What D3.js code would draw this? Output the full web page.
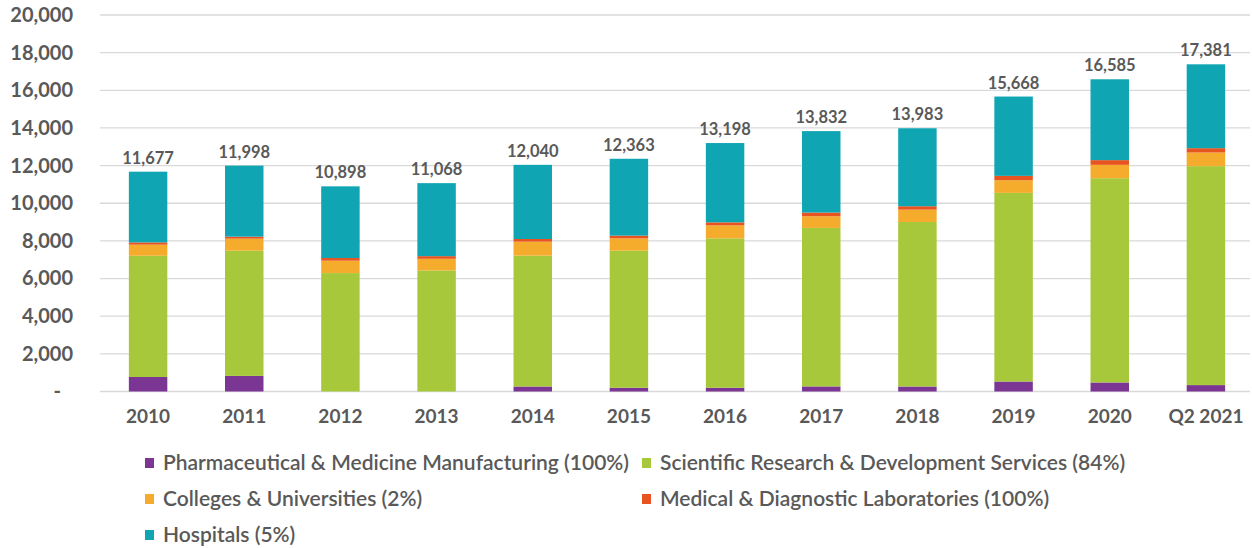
<!DOCTYPE html>
<html>
<head>
<meta charset="utf-8">
<script src="https://cdn.jsdelivr.net/npm/d3@7"></script>
<style>
  body { margin: 0; background: #fff; }
  svg text { font-family: Lato, "Open Sans", sans-serif; fill: #595959; }
  .axis path, .axis line { display: none; }
  .grid line { stroke: #d9d9d9; stroke-width: 1.3; }
</style>
</head>
<body>
<svg id="chart"></svg>
<script>
// categories and series
const years = ["2010", "2011", "2012", "2013", "2014", "2015", "2016", "2017", "2018", "2019", "2020", "Q2 2021"];
const pharma = [770, 830, 0, 0, 266, 200, 200, 270, 266, 530, 480, 340];
const scientific = [6440, 6650, 6290, 6430, 6950, 7280, 7935, 8420, 8740, 10020, 10850, 11630];
const colleges = [590, 640, 660, 620, 745, 655, 690, 620, 655, 675, 710, 725];
const labs = [120, 105, 140, 140, 140, 145, 160, 195, 180, 230, 250, 230];
const hospitals = [3757, 3773, 3808, 3878, 3939, 4083, 4213, 4327, 4142, 4213, 4295, 4456];
const totals = [11677, 11998, 10898, 11068, 12040, 12363, 13198, 13832, 13983, 15668, 16585, 17381];
const yTicks = [0, 2000, 4000, 6000, 8000, 10000, 12000, 14000, 16000, 18000, 20000];

const seriesNames = [
  "Pharmaceutical & Medicine Manufacturing (100%)",
  "Scientific Research & Development Services (84%)",
  "Colleges & Universities (2%)",
  "Medical & Diagnostic Laboratories (100%)",
  "Hospitals (5%)",
];
const seriesColors = ["#7b3593", "#a6c83a", "#f5ac2c", "#e8541f", "#10a5b3"];

const width = 1252;
const height = 548;

const svg = d3.select("#chart").attr("width", width).attr("height", height);

const keys = ["pharma", "scientific", "colleges", "labs", "hospitals"];
const table = years.map((y, i) => ({
  year: y,
  pharma: pharma[i],
  scientific: scientific[i],
  colleges: colleges[i],
  labs: labs[i],
  hospitals: hospitals[i],
  total: totals[i],
}));

const x = d3.scaleBand()
  .domain(years)
  .range([100, 1254])
  .paddingInner(0.6)
  .paddingOuter(0.3);

const y = d3.scaleLinear().domain([0, 20000]).range([391.5, 15]);

// gridlines
svg.append("g")
  .attr("class", "grid")
  .selectAll("line")
  .data(yTicks)
  .join("line")
  .attr("x1", 100)
  .attr("x2", 1250)
  .attr("y1", (d) => y(d))
  .attr("y2", (d) => y(d));

// y axis
const yAxis = svg.append("g")
  .attr("class", "axis")
  .attr("transform", "translate(100,0)")
  .call(d3.axisLeft(y).tickValues(yTicks).tickSize(0).tickPadding(27)
    .tickFormat((d) => (d === 0 ? "-" : d3.format(",")(d))));
yAxis.selectAll("text")
  .style("font-size", "20px")
  .style("font-weight", "bold");
yAxis.selectAll(".tick text").filter((d) => d === 0).attr("dx", -12);

// x axis
const xAxis = svg.append("g")
  .attr("class", "axis")
  .attr("transform", "translate(0,391.5)")
  .call(d3.axisBottom(x).tickSize(0).tickPadding(18));
xAxis.selectAll("text")
  .style("font-size", "19px")
  .style("font-weight", "bold");

// stacked bars
const stacked = d3.stack().keys(keys)(table);

svg.append("g")
  .selectAll("g")
  .data(stacked)
  .join("g")
  .attr("fill", (d, i) => seriesColors[i])
  .selectAll("rect")
  .data((d) => d)
  .join("rect")
  .attr("x", (d) => x(d.data.year))
  .attr("width", x.bandwidth())
  .attr("y", (d) => y(d[1]))
  .attr("height", (d) => y(d[0]) - y(d[1]));

// total labels
svg.append("g")
  .selectAll("text")
  .data(table)
  .join("text")
  .attr("x", (d) => x(d.year) + x.bandwidth() / 2)
  .attr("y", (d) => y(d.total) - 8)
  .attr("text-anchor", "middle")
  .style("font-size", "16.5px")
  .style("font-weight", "bold")
  .text((d) => d3.format(",")(d.total));

// legend
const legendPos = [
  [145, 463], [642, 463],
  [145, 499], [642, 499],
  [145, 535],
];
const legend = svg.append("g")
  .selectAll("g")
  .data(seriesNames)
  .join("g")
  .attr("transform", (d, i) => `translate(${legendPos[i][0]},${legendPos[i][1]})`);

legend.append("rect")
  .attr("x", 0)
  .attr("y", -5)
  .attr("width", 9)
  .attr("height", 10)
  .attr("fill", (d, i) => seriesColors[i]);

legend.append("text")
  .attr("x", 18)
  .attr("dy", "0.35em")
  .style("font-size", "21px")
  .style("font-weight", "600")
  .text((d) => d);
</script>
</body>
</html>
